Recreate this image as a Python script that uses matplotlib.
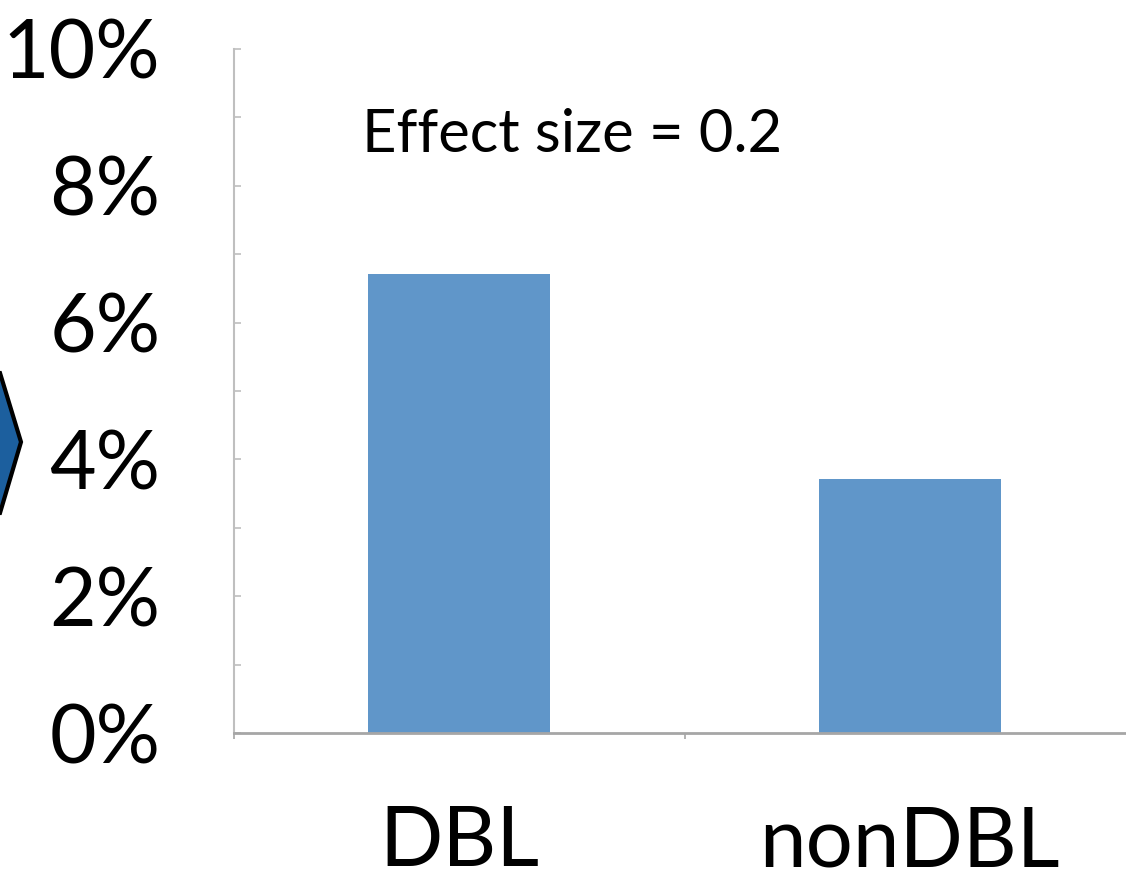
"""Effect size bar chart: DBL vs nonDBL."""

import matplotlib

matplotlib.use("Agg")
import matplotlib.pyplot as plt
from matplotlib.patches import Polygon
from matplotlib.ticker import FuncFormatter, MultipleLocator

categories = ["DBL", "nonDBL"]
rates = [6.71, 3.71]  # percent
annotation = "Effect size = 0.2"

bar_color = "#6096C9"
plt.rcParams["font.family"] = ["Lato", "DejaVu Sans"]

fig = plt.figure(figsize=(11.26, 8.8), dpi=100)
ax = fig.add_axes([234 / 1126, 147 / 880, 901 / 1126, 684 / 880])

x = range(len(categories))
ax.bar(x, rates, width=0.405, color=bar_color, zorder=2)

ax.set_xlim(-0.5, 1.5)
ax.set_ylim(0, 10)

for side in ("top", "right"):
    ax.spines[side].set_visible(False)
ax.spines["left"].set_color("#BFBFBF")
ax.spines["left"].set_linewidth(1.5)
ax.spines["bottom"].set_color("#A6A6A6")
ax.spines["bottom"].set_linewidth(2)
ax.spines["bottom"].set_zorder(3)

# y axis: labels every 2%, ticks every 1%
ax.yaxis.set_major_locator(MultipleLocator(2))
ax.yaxis.set_minor_locator(MultipleLocator(1))
ax.yaxis.set_major_formatter(FuncFormatter(lambda v, _: f"{v:.0f}%"))
ax.tick_params(axis="y", which="both", direction="in", length=5,
               width=1.2, color="#BFBFBF")
ax.tick_params(axis="y", which="major", labelsize=58, pad=53)

# x axis: boundary ticks, labels centred on categories
ax.set_xticks([-0.5, 0.5, 1.5])
ax.set_xticklabels([])
ax.set_xticks(list(x), minor=True)
ax.set_xticklabels(categories, minor=True)
ax.tick_params(axis="x", which="major", direction="out", length=4,
               width=1.2, color="#A6A6A6")
ax.tick_params(axis="x", which="minor", length=0, labelsize=60, pad=52)

fig.text(362 / 1126, 1 - 152 / 880, annotation, fontsize=43,
         va="baseline", ha="left")

# partial arrow shape cut off at the left edge
pts = [(-10, 373), (0, 373), (21, 442), (0, 513), (-10, 513)]
pts = [(px / 1126, 1 - py / 880) for px, py in pts]
fig.patches.append(Polygon(pts, closed=True, transform=fig.transFigure,
                           facecolor="#1C5F9E", edgecolor="black",
                           linewidth=3, figure=fig))

fig.savefig("out.png", dpi=100)
